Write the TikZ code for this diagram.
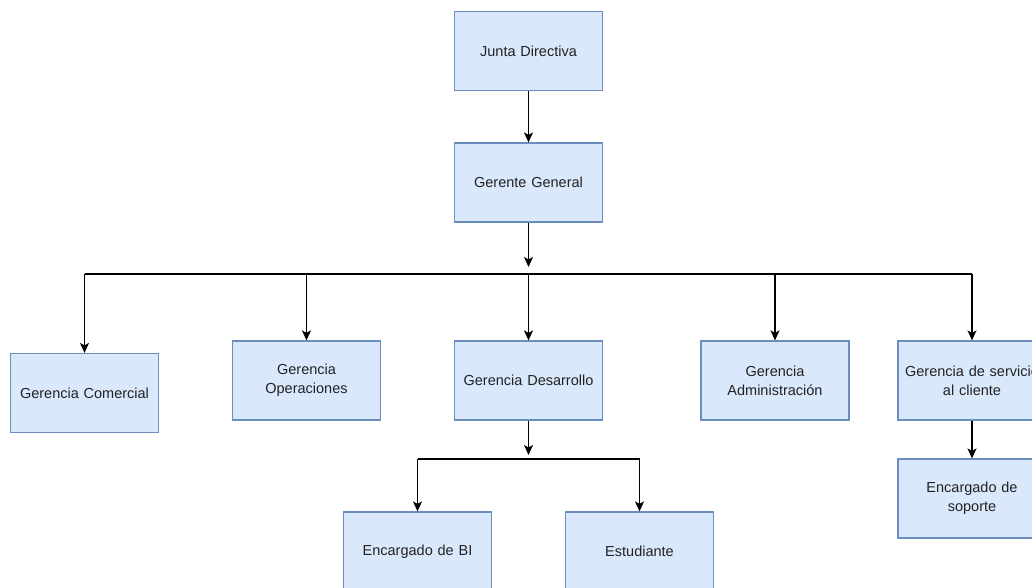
\documentclass[tikz,border=0pt]{standalone}
\usepackage{fontspec}
\setmainfont{Liberation Sans}
\usetikzlibrary{arrows.meta}
\definecolor{boxfill}{HTML}{DAE8FC}
\definecolor{boxline}{HTML}{6C8EBF}
\definecolor{txt}{HTML}{222222}
\tikzset{
  orgbox/.style={draw=boxline, fill=boxfill, line width=1.2pt, minimum width=148pt, minimum height=79pt,
    inner sep=0pt, text width=144pt, align=center, text=txt,
    font=\fontsize{14.5}{19}\selectfont},
  conn/.style={line width=1.4pt, draw=black},
  arr/.style={conn, -{Stealth[length=10pt,width=9pt,inset=2.5pt]}}
}
\begin{document}
\begin{tikzpicture}[x=1pt,y=-1pt]
\useasboundingbox (0,0) rectangle (1032,588);
\clip (0,0) rectangle (1032,588);
\fill[white] (0,0) rectangle (1032,588);
% nodes
\node[orgbox] (jd) at (528.5,51) {Junta Directiva};
\node[orgbox] (gg) at (528.5,182.5) {Gerente General};
\node[orgbox] (gc) at (84.5,393) {Gerencia Comercial};
\node[orgbox] (go) at (306.5,380.5) {Gerencia\\Operaciones};
\node[orgbox] (gd) at (528.5,380.5) {Gerencia Desarrollo};
\node[orgbox] (ga) at (775,380.5) {Gerencia\\Administración};
\node[orgbox] (gs) at (972,380.5) {Gerencia de servicio\\al cliente};
\node[orgbox] (gso) at (972,498.5) {Encargado de\\soporte};
\node[orgbox] (bi) at (417.5,551.5) {Encargado de BI};
\node[orgbox] (es) at (639.5,551.5) {Estudiante};
% bars
\coordinate (bar) at (528.5,274);
\coordinate (bartip) at (528.5,267);
\coordinate (barL) at (84.5,274);
\coordinate (barR) at (972,274);
\coordinate (dbar) at (528.5,459);
\coordinate (dbartip) at (528.5,455);
\coordinate (dbarL) at (417.5,459);
\coordinate (dbarR) at (639.5,459);
% connectors
\draw[arr] (jd) -- (gg);
\draw[arr] (gg) -- (bartip);
\draw[conn] (barL) -- (barR);
\draw[arr] (bar) -- (gd);
\draw[arr] (barL) -- (gc);
\draw[arr] (306.5,274) -- (go);
\draw[arr] (775,274) -- (ga);
\draw[arr] (barR) -- (gs);
\draw[arr] (gs) -- (gso);
\draw[arr] (gd) -- (dbartip);
\draw[conn] (dbarL) -- (dbarR);
\draw[arr] (dbarL) -- (bi);
\draw[arr] (dbarR) -- (es);
\end{tikzpicture}
\end{document}
